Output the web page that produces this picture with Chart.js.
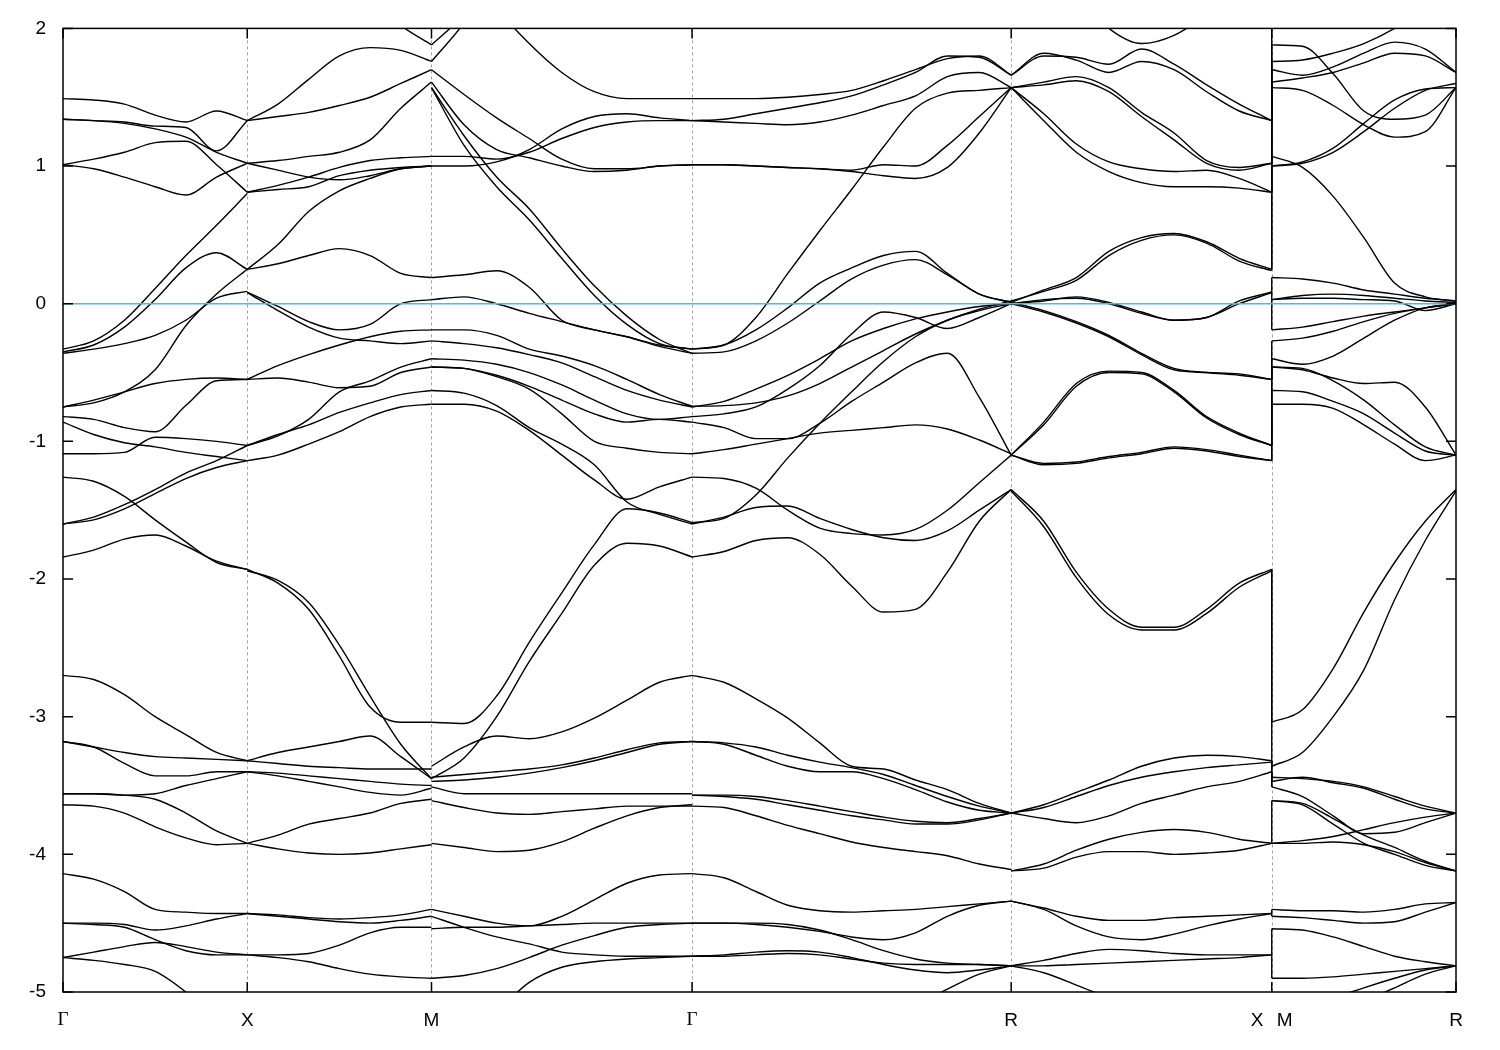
<!DOCTYPE html>
<html>
<head>
<meta charset="utf-8">
<script src="https://cdn.jsdelivr.net/npm/chart.js@4.4.1/dist/chart.umd.min.js"></script>
<style>
html,body{margin:0;padding:0;background:#fff;}
#wrap{position:relative;width:1500px;height:1050px;}
canvas{display:block;}
</style>
</head>
<body>
<div id="wrap"><canvas id="chart" width="1500" height="1050"></canvas></div>
<script>
// ---- k-path: Γ-X, X-M, M-Γ, Γ-R, R-X | M-R (segment lengths in units of Γ-X) ----
const kLabels = ['Γ', 'X', 'M', 'Γ', 'R', 'X\u2002\u2009M', 'R'];
const segLengths = [1, 1, Math.SQRT2, Math.sqrt(3), Math.SQRT2, 1];
const yTicks = [2, 1, 0, -1, -2, -3, -4, -5];
const fermiLevel = 0;

// ---- band energies (eV) on an even k-grid along each segment ----
const bandsGX = [
 [1.49,1.48,1.45,1.37,1.32,1.40,1.33],
 [1.34,1.33,1.32,1.29,1.28,1.11,1.33],
 [1.34,1.33,1.31,1.27,1.21,1.10,1.02],
 [1.01,1.05,1.10,1.17,1.18,1.01,0.81],
 [1.01,0.98,0.92,0.85,0.79,0.92,1.02],
 [-0.33,-0.27,-0.12,0.11,0.35,0.57,0.80],
 [-0.35,-0.30,-0.17,0.03,0.26,0.37,0.25],
 [-0.75,-0.72,-0.64,-0.48,-0.16,0.07,0.25],
 [-0.36,-0.33,-0.29,-0.23,-0.12,0.04,0.09],
 [-0.75,-0.70,-0.64,-0.58,-0.55,-0.54,-0.55],
 [-0.82,-0.84,-0.90,-0.93,-0.74,-0.56,-0.55],
 [-0.86,-0.95,-1.01,-1.04,-1.08,-1.11,-1.14],
 [-1.09,-1.09,-1.08,-0.97,-0.98,-1.00,-1.03],
 [-1.26,-1.29,-1.40,-1.57,-1.73,-1.88,-1.93],
 [-1.60,-1.55,-1.46,-1.35,-1.23,-1.14,-1.03],
 [-1.60,-1.57,-1.49,-1.38,-1.27,-1.19,-1.14],
 [-1.84,-1.79,-1.71,-1.68,-1.76,-1.87,-1.93],
 [-2.70,-2.73,-2.84,-3.00,-3.13,-3.26,-3.32],
 [-3.18,-3.22,-3.34,-3.43,-3.43,-3.40,-3.40],
 [-3.18,-3.22,-3.26,-3.29,-3.30,-3.31,-3.32],
 [-3.56,-3.56,-3.57,-3.56,-3.50,-3.45,-3.40],
 [-3.56,-3.56,-3.57,-3.60,-3.70,-3.83,-3.92],
 [-3.64,-3.65,-3.70,-3.80,-3.88,-3.93,-3.92],
 [-4.14,-4.18,-4.27,-4.40,-4.42,-4.43,-4.43],
 [-4.50,-4.50,-4.51,-4.55,-4.52,-4.47,-4.43],
 [-4.50,-4.51,-4.53,-4.62,-4.70,-4.73,-4.73],
 [-4.75,-4.71,-4.67,-4.64,-4.67,-4.71,-4.73],
 [-4.75,-4.77,-4.80,-4.85,-5.00,-5.20,-5.40]
];

const bandsXM = [
 [1.33,1.45,1.63,1.80,1.86,1.84,1.76],
 [1.33,1.36,1.39,1.44,1.50,1.60,1.70],
 [1.02,1.04,1.07,1.10,1.19,1.42,1.61],
 [1.02,0.97,0.92,0.90,0.93,0.98,1.00],
 [0.81,0.86,0.92,0.99,1.04,1.06,1.07],
 [0.81,0.83,0.85,0.93,0.97,0.99,1.00],
 [0.25,0.43,0.67,0.82,0.91,0.98,1.00],
 [0.25,0.29,0.35,0.40,0.35,0.22,0.19],
 [0.085,-0.02,-0.13,-0.19,-0.15,0.00,0.03],
 [0.08,-0.05,-0.17,-0.25,-0.27,-0.29,-0.27],
 [-0.55,-0.54,-0.57,-0.61,-0.60,-0.50,-0.46],
 [-0.55,-0.45,-0.37,-0.30,-0.24,-0.20,-0.19],
 [-1.03,-0.96,-0.84,-0.64,-0.56,-0.46,-0.40],
 [-1.03,-0.95,-0.88,-0.79,-0.72,-0.66,-0.63],
 [-1.14,-1.10,-1.02,-0.93,-0.82,-0.75,-0.73],
 [-1.93,-2.03,-2.22,-2.56,-2.93,-3.04,-3.04],
 [-1.94,-2.01,-2.17,-2.48,-2.85,-3.20,-3.45],
 [-3.32,-3.26,-3.22,-3.18,-3.14,-3.29,-3.45],
 [-3.32,-3.34,-3.36,-3.37,-3.38,-3.38,-3.38],
 [-3.40,-3.41,-3.43,-3.45,-3.47,-3.49,-3.50],
 [-3.40,-3.43,-3.47,-3.51,-3.55,-3.57,-3.52],
 [-3.92,-3.86,-3.78,-3.74,-3.70,-3.63,-3.60],
 [-3.92,-3.96,-3.99,-4.00,-3.99,-3.96,-3.93],
 [-4.43,-4.44,-4.46,-4.47,-4.46,-4.44,-4.40],
 [-4.43,-4.45,-4.47,-4.49,-4.50,-4.48,-4.45],
 [-4.73,-4.73,-4.72,-4.66,-4.57,-4.53,-4.53],
 [-4.73,-4.75,-4.78,-4.83,-4.87,-4.89,-4.90],
 [2.60,2.50,2.40,2.30,2.20,2.02,1.88]
];

const bandsMG = [
 [1.88,2.10,2.40,2.70,3.00,3.30,3.60,3.90,4.20],
 [1.76,2.04,2.40,2.70,3.00,3.30,3.60,3.90,4.20],
 [2.70,2.50,2.15,1.89,1.68,1.54,1.49,1.49,1.49],
 [1.70,1.52,1.35,1.20,1.05,0.98,0.98,1.00,1.01],
 [1.61,1.30,1.12,1.06,1.00,0.96,0.97,1.00,1.01],
 [1.57,1.15,0.85,0.61,0.33,0.06,-0.15,-0.29,-0.33],
 [1.57,1.22,0.92,0.69,0.40,0.13,-0.09,-0.26,-0.36],
 [1.07,1.07,1.05,1.10,1.20,1.28,1.32,1.33,1.33],
 [1.00,1.00,1.03,1.12,1.27,1.36,1.38,1.35,1.33],
 [0.03,0.05,0.00,-0.07,-0.13,-0.19,-0.24,-0.31,-0.36],
 [0.19,0.21,0.24,0.12,-0.12,-0.19,-0.24,-0.30,-0.33],
 [-0.19,-0.19,-0.23,-0.33,-0.38,-0.45,-0.55,-0.66,-0.745],
 [-0.27,-0.29,-0.32,-0.37,-0.43,-0.53,-0.63,-0.70,-0.75],
 [-0.40,-0.41,-0.44,-0.50,-0.59,-0.70,-0.80,-0.84,-0.82],
 [-0.46,-0.47,-0.52,-0.60,-0.70,-0.80,-0.86,-0.84,-0.86],
 [-0.46,-0.47,-0.53,-0.62,-0.80,-1.00,-1.05,-1.08,-1.09],
 [-0.63,-0.65,-0.74,-0.90,-1.02,-1.17,-1.44,-1.53,-1.60],
 [-0.73,-0.73,-0.78,-0.92,-1.10,-1.28,-1.42,-1.33,-1.26],
 [-3.45,-3.30,-3.00,-2.60,-2.25,-1.90,-1.74,-1.76,-1.84],
 [-3.04,-3.05,-2.85,-2.46,-2.10,-1.75,-1.49,-1.52,-1.59],
 [-3.36,-3.22,-3.14,-3.16,-3.11,-3.01,-2.88,-2.75,-2.70],
 [-3.44,-3.42,-3.40,-3.38,-3.35,-3.30,-3.24,-3.19,-3.18],
 [-3.47,-3.46,-3.44,-3.41,-3.37,-3.32,-3.26,-3.20,-3.18],
 [-3.51,-3.56,-3.56,-3.56,-3.56,-3.56,-3.56,-3.56,-3.56],
 [-3.61,-3.66,-3.70,-3.71,-3.69,-3.67,-3.65,-3.65,-3.65],
 [-3.92,-3.95,-3.98,-3.97,-3.91,-3.81,-3.72,-3.66,-3.64],
 [-4.40,-4.45,-4.50,-4.52,-4.45,-4.33,-4.21,-4.15,-4.14],
 [-4.45,-4.53,-4.60,-4.65,-4.71,-4.73,-4.74,-4.74,-4.74],
 [-4.54,-4.53,-4.53,-4.52,-4.51,-4.50,-4.50,-4.50,-4.50],
 [-4.90,-4.88,-4.83,-4.75,-4.66,-4.59,-4.53,-4.51,-4.50],
 [-5.60,-5.40,-5.15,-4.93,-4.82,-4.78,-4.76,-4.75,-4.74]
];

const bandsGR = [
 [1.49,1.49,1.49,1.50,1.52,1.55,1.62,1.70,1.78,1.80,1.66],
 [1.33,1.34,1.38,1.42,1.46,1.51,1.59,1.68,1.80,1.79,1.66],
 [1.33,1.32,1.31,1.30,1.32,1.37,1.44,1.51,1.65,1.68,1.57],
 [1.01,1.01,1.00,0.99,0.98,0.97,1.01,1.00,1.15,1.36,1.57],
 [1.01,1.01,1.00,0.99,0.98,0.96,0.93,0.91,0.99,1.24,1.57],
 [-0.33,-0.30,-0.10,0.22,0.53,0.83,1.14,1.42,1.53,1.55,1.57],
 [-0.33,-0.30,-0.19,-0.03,0.15,0.26,0.35,0.38,0.22,0.07,0.01],
 [-0.36,-0.35,-0.27,-0.14,0.02,0.18,0.28,0.32,0.21,0.07,0.01],
 [-0.75,-0.71,-0.62,-0.52,-0.40,-0.27,-0.18,-0.11,-0.06,-0.02,0.00],
 [-0.745,-0.74,-0.72,-0.67,-0.58,-0.46,-0.34,-0.22,-0.12,-0.04,0.02],
 [-0.82,-0.80,-0.75,-0.62,-0.45,-0.22,-0.06,-0.10,-0.18,-0.10,0.00],
 [-0.86,-0.90,-0.98,-0.98,-0.87,-0.71,-0.57,-0.43,-0.36,-0.68,-1.10],
 [-1.59,-1.56,-1.39,-1.12,-0.87,-0.64,-0.42,-0.24,-0.12,-0.05,0.00],
 [-1.09,-1.06,-1.02,-0.98,-0.94,-0.92,-0.90,-0.88,-0.91,-0.99,-1.09],
 [-1.26,-1.27,-1.34,-1.50,-1.63,-1.67,-1.68,-1.64,-1.50,-1.30,-1.10],
 [-1.60,-1.55,-1.48,-1.47,-1.56,-1.64,-1.70,-1.72,-1.65,-1.50,-1.35],
 [-1.84,-1.80,-1.72,-1.70,-1.82,-2.05,-2.24,-2.22,-1.95,-1.58,-1.35],
 [-2.70,-2.75,-2.87,-3.01,-3.19,-3.36,-3.38,-3.46,-3.53,-3.63,-3.70],
 [-3.18,-3.19,-3.22,-3.28,-3.33,-3.37,-3.42,-3.50,-3.58,-3.65,-3.70],
 [-3.18,-3.20,-3.28,-3.36,-3.40,-3.40,-3.45,-3.53,-3.62,-3.68,-3.70],
 [-3.57,-3.57,-3.58,-3.61,-3.65,-3.69,-3.73,-3.76,-3.77,-3.74,-3.70],
 [-3.57,-3.58,-3.60,-3.64,-3.68,-3.72,-3.75,-3.78,-3.78,-3.75,-3.70],
 [-3.65,-3.66,-3.72,-3.79,-3.85,-3.91,-3.95,-3.98,-4.01,-4.07,-4.11],
 [-4.14,-4.17,-4.27,-4.37,-4.41,-4.42,-4.41,-4.40,-4.38,-4.36,-4.34],
 [-4.50,-4.50,-4.51,-4.53,-4.56,-4.60,-4.62,-4.57,-4.45,-4.37,-4.34],
 [-4.50,-4.50,-4.50,-4.51,-4.55,-4.62,-4.70,-4.76,-4.79,-4.80,-4.81],
 [-4.74,-4.73,-4.71,-4.70,-4.71,-4.75,-4.80,-4.84,-4.86,-4.84,-4.81],
 [-4.74,-4.74,-4.73,-4.72,-4.73,-4.76,-4.79,-4.80,-4.80,-4.80,-4.81],
 [-6.50,-6.20,-5.90,-5.70,-5.50,-5.35,-5.25,-5.10,-4.98,-4.87,-4.81]
];

const bandsRX = [
 [2.80,2.50,2.25,2.00,1.89,1.95,2.10,2.30,2.50],
 [1.66,1.80,1.79,1.74,1.85,1.74,1.59,1.45,1.33],
 [1.66,1.82,1.77,1.68,1.76,1.70,1.54,1.40,1.33],
 [1.57,1.61,1.65,1.57,1.39,1.24,1.04,0.99,1.02],
 [1.57,1.59,1.62,1.54,1.36,1.19,1.02,0.97,1.02],
 [1.57,1.38,1.16,1.03,0.98,0.96,0.97,0.91,0.81],
 [1.57,1.33,1.10,0.96,0.88,0.85,0.85,0.84,0.81],
 [0.01,0.10,0.19,0.38,0.48,0.51,0.45,0.33,0.25],
 [0.02,0.09,0.17,0.35,0.46,0.50,0.44,0.31,0.24],
 [0.00,0.02,0.05,0.01,-0.06,-0.12,-0.10,0.02,0.085],
 [0.00,0.03,0.04,0.00,-0.07,-0.12,-0.10,0.00,0.08],
 [0.00,-0.06,-0.14,-0.24,-0.37,-0.48,-0.50,-0.51,-0.55],
 [0.01,-0.05,-0.13,-0.23,-0.36,-0.47,-0.50,-0.52,-0.55],
 [-1.10,-1.16,-1.15,-1.11,-1.08,-1.04,-1.06,-1.10,-1.14],
 [-1.10,-1.17,-1.16,-1.12,-1.09,-1.05,-1.07,-1.11,-1.14],
 [-1.10,-0.86,-0.58,-0.49,-0.50,-0.63,-0.82,-0.94,-1.03],
 [-1.10,-0.88,-0.60,-0.50,-0.51,-0.64,-0.83,-0.95,-1.03],
 [-1.35,-1.58,-1.95,-2.22,-2.35,-2.35,-2.22,-2.03,-1.93],
 [-1.36,-1.62,-1.99,-2.26,-2.37,-2.37,-2.25,-2.06,-1.94],
 [-3.70,-3.64,-3.55,-3.46,-3.36,-3.30,-3.28,-3.29,-3.32],
 [-3.70,-3.66,-3.58,-3.50,-3.44,-3.40,-3.37,-3.35,-3.33],
 [-3.70,-3.74,-3.77,-3.72,-3.63,-3.57,-3.51,-3.47,-3.40],
 [-4.12,-4.07,-3.97,-3.89,-3.84,-3.82,-3.84,-3.89,-3.92],
 [-4.12,-4.10,-4.02,-3.98,-3.98,-4.00,-3.99,-3.97,-3.92],
 [-4.34,-4.39,-4.45,-4.48,-4.48,-4.46,-4.45,-4.44,-4.43],
 [-4.34,-4.40,-4.52,-4.60,-4.62,-4.58,-4.52,-4.47,-4.43],
 [-4.81,-4.77,-4.72,-4.69,-4.70,-4.72,-4.73,-4.73,-4.73],
 [-4.81,-4.81,-4.80,-4.79,-4.78,-4.77,-4.76,-4.75,-4.73],
 [-4.81,-4.86,-4.95,-5.05,-5.20,-5.40,-5.60,-5.80,-6.00]
];

const bandsMR = [
 [1.88,1.87,1.67,1.40,1.34,1.37,1.57],
 [1.76,1.77,1.82,1.89,2.00,2.15,2.30],
 [1.70,1.66,1.72,1.82,1.90,1.85,1.68],
 [1.61,1.64,1.68,1.75,1.82,1.80,1.68],
 [1.57,1.55,1.44,1.30,1.21,1.25,1.57],
 [1.00,1.03,1.13,1.31,1.48,1.56,1.57],
 [1.00,1.02,1.10,1.25,1.42,1.55,1.60],
 [1.07,0.99,0.78,0.48,0.15,0.05,0.02],
 [0.19,0.18,0.15,0.10,0.07,0.04,0.02],
 [0.03,0.06,0.07,0.06,0.04,0.02,0.01],
 [0.03,0.04,0.04,0.03,0.02,-0.05,0.00],
 [-0.19,-0.17,-0.13,-0.09,-0.06,-0.03,0.00],
 [-0.27,-0.25,-0.20,-0.13,-0.07,-0.03,0.00],
 [-0.40,-0.44,-0.38,-0.25,-0.12,-0.03,0.00],
 [-0.46,-0.48,-0.54,-0.58,-0.57,-0.75,-1.10],
 [-0.46,-0.47,-0.56,-0.70,-0.88,-1.04,-1.10],
 [-0.63,-0.64,-0.71,-0.80,-0.94,-1.07,-1.10],
 [-0.73,-0.73,-0.76,-0.88,-1.02,-1.14,-1.10],
 [-3.04,-2.95,-2.65,-2.24,-1.88,-1.58,-1.35],
 [-3.36,-3.26,-3.00,-2.66,-2.15,-1.72,-1.36],
 [-3.44,-3.45,-3.47,-3.51,-3.58,-3.65,-3.70],
 [-3.47,-3.44,-3.48,-3.52,-3.60,-3.67,-3.70],
 [-3.51,-3.58,-3.72,-3.85,-3.84,-3.77,-3.70],
 [-3.61,-3.63,-3.74,-3.86,-3.95,-4.05,-4.12],
 [-3.61,-3.64,-3.78,-3.92,-4.00,-4.08,-4.12],
 [-3.92,-3.92,-3.91,-3.93,-3.98,-4.06,-4.12],
 [-3.92,-3.90,-3.87,-3.82,-3.77,-3.73,-3.70],
 [-4.40,-4.41,-4.41,-4.42,-4.40,-4.36,-4.35],
 [-4.45,-4.46,-4.48,-4.50,-4.49,-4.42,-4.35],
 [-4.54,-4.55,-4.60,-4.67,-4.74,-4.78,-4.81],
 [-4.90,-4.90,-4.89,-4.87,-4.85,-4.83,-4.81],
 [-5.40,-5.20,-5.05,-4.97,-4.90,-4.84,-4.81],
 [-5.60,-5.40,-5.20,-5.07,-4.97,-4.87,-4.81]
];

// energies joined across the path break (value at X, value at M)
const jumpsXM = [
 [1.33,2.30],[1.33,1.88],[1.02,1.76],[1.02,1.70],[0.81,1.61],[0.81,1.57],
 [0.25,1.07],[0.25,1.00],[0.085,0.19],[0.085,-0.19],[-0.55,-0.27],[-0.55,-0.40],
 [-1.03,-0.46],[-1.03,-0.46],[-1.14,-0.63],[-1.14,-0.73],[-1.93,-3.04],[-1.93,-3.36],
 [-3.32,-3.44],[-3.32,-3.47],[-3.40,-3.51],[-3.40,-3.51],[-3.92,-3.61],[-3.92,-3.92],
 [-4.43,-4.40],[-4.43,-4.45],[-4.73,-4.54],[-4.73,-4.90]
];

// ---- build path coordinates ----
const starts = [];
let acc = 0;
for (let i = 0; i < 5; i++) { starts.push(acc); acc += segLengths[i]; }
const kBreak = acc;
starts.push(kBreak);
const kEnd = kBreak + segLengths[5];
const kTicks = [...starts, kEnd];
const segments = [bandsGX, bandsXM, bandsMG, bandsGR, bandsRX, bandsMR];

const bandStyle = {
  borderColor: '#000', borderWidth: 1.4, pointRadius: 0, pointHoverRadius: 0,
  fill: false, cubicInterpolationMode: 'monotone', order: 1
};

const datasets = [];
segments.forEach((seg, s) => {
  seg.forEach(vals => {
    const n = vals.length - 1;
    datasets.push(Object.assign({}, bandStyle, {
      data: vals.map((e, i) => ({ x: starts[s] + segLengths[s] * i / n, y: e }))
    }));
  });
});
jumpsXM.forEach(([a, b]) => {
  datasets.push(Object.assign({}, bandStyle, {
    cubicInterpolationMode: 'default', tension: 0,
    data: [{ x: kBreak, y: a }, { x: kBreak, y: b }]
  }));
});
datasets.push({
  data: [{ x: 0, y: fermiLevel }, { x: kEnd, y: fermiLevel }],
  borderColor: '#56b4e9', borderWidth: 1.5, pointRadius: 0, tension: 0, fill: false, order: 0
});

const decor = {
  id: 'decor',
  beforeDatasetsDraw(chart) {
    const { ctx, chartArea: a, scales: { x } } = chart;
    ctx.save();
    ctx.strokeStyle = '#a0a0a0';
    ctx.lineWidth = 1;
    ctx.setLineDash([3, 3]);
    kTicks.slice(1, -1).forEach(k => {
      const px = Math.round(x.getPixelForValue(k)) + 0.5;
      ctx.beginPath(); ctx.moveTo(px, a.top); ctx.lineTo(px, a.bottom); ctx.stroke();
    });
    ctx.restore();
  },
  afterDatasetsDraw(chart) {
    const { ctx, chartArea: a, scales: { x, y } } = chart;
    ctx.save();
    ctx.strokeStyle = '#000';
    ctx.lineWidth = 1.5;
    ctx.setLineDash([]);
    ctx.strokeRect(a.left, a.top, a.right - a.left, a.bottom - a.top);
    const L = 10;
    ctx.beginPath();
    yTicks.forEach(v => {
      const py = y.getPixelForValue(v);
      ctx.moveTo(a.left, py); ctx.lineTo(a.left + L, py);
      ctx.moveTo(a.right, py); ctx.lineTo(a.right - L, py);
    });
    kTicks.forEach(k => {
      const px = x.getPixelForValue(k);
      ctx.moveTo(px, a.bottom); ctx.lineTo(px, a.bottom - L);
      ctx.moveTo(px, a.top); ctx.lineTo(px, a.top + L);
    });
    ctx.stroke();
    ctx.restore();
  }
};

Chart.defaults.font.family = 'Liberation Sans';
new Chart(document.getElementById('chart'), {
  type: 'line',
  data: { datasets },
  options: {
    responsive: false,
    animation: false,
    devicePixelRatio: 1,
    events: [],
    layout: { autoPadding: false, padding: { left: 0, top: 28, right: 44, bottom: 0 } },
    plugins: { legend: { display: false }, tooltip: { enabled: false } },
    scales: {
      x: {
        type: 'linear', min: 0, max: kEnd,
        grid: { display: false, drawTicks: false },
        border: { display: false },
        afterBuildTicks: s => { s.ticks = kTicks.map(v => ({ value: v })); },
        afterFit: s => { s.height = 58; },
        ticks: {
          autoSkip: false, maxRotation: 0, minRotation: 0, padding: 17, color: '#000',
          font: ctx => ({ family: kLabels[ctx.index] === 'Γ' ? 'Liberation Serif' : 'Liberation Sans', size: 19 }),
          callback: (v, i) => kLabels[i]
        }
      },
      y: {
        type: 'linear', min: -5, max: 2,
        grid: { display: false, drawTicks: false },
        border: { display: false },
        afterBuildTicks: s => { s.ticks = yTicks.map(v => ({ value: v })); },
        afterFit: s => { s.width = 63; },
        ticks: { padding: 17, color: '#000', font: { family: 'Liberation Sans', size: 19 },
                 callback: v => String(v) }
      }
    }
  },
  plugins: [decor]
});
</script>
</body>
</html>
